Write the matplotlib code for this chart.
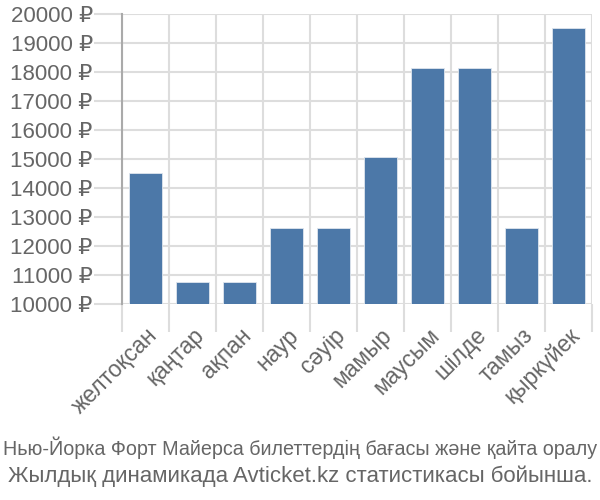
import matplotlib
matplotlib.use("Agg")
import matplotlib.pyplot as plt
import numpy as np

months = ["желтоқсан", "қаңтар", "ақпан", "наур", "сәуір", "мамыр",
          "маусым", "шілде", "тамыз", "қыркүйек"]
prices = [14520, 10760, 10760, 12620, 12620, 15070, 18150, 18150, 12620, 19530]
yticks = list(range(10000, 20001, 1000))
title_1 = "Нью-Йорка Форт Майерса билеттердің бағасы және қайта оралу"
title_2 = "Жылдық динамикада Avticket.kz статистикасы бойынша."

TEXT = "#666666"
GRID = "#dddddd"

plt.rcParams["font.family"] = ["Liberation Sans", "DejaVu Sans"]

fig = plt.figure(figsize=(6, 5), dpi=100)
ax = fig.add_axes([122 / 600, 1 - 304 / 500, 470 / 600, 290 / 500])

x = np.arange(len(months))
ax.bar(x, np.array(prices) - 10000, bottom=10000, width=0.72,
       color="#4c78a8", edgecolor="#dfe6ee", linewidth=0.6, zorder=3)

ax.set_xlim(-0.5, len(months) - 0.5)
ax.set_ylim(10000, 20000)

# horizontal grid + tick stubs to the left
ax.set_yticks(yticks)
ax.set_yticklabels([f"{v} ₽" for v in yticks], fontsize=16, color=TEXT)
ax.tick_params(axis="y", length=20, width=1.5, color=GRID, pad=1)
ax.grid(axis="y", color=GRID, linewidth=1.5, zorder=0)

# vertical grid at category boundaries, extended downwards as ticks
bounds = np.arange(len(months) + 1) - 0.5
ax.set_xticks(bounds, minor=True)
ax.tick_params(axis="x", which="minor", length=20, width=1.5, color=GRID)
ax.grid(axis="x", which="minor", color=GRID, linewidth=1.5, zorder=0)
ax.set_xticks(x)
ax.set_xticklabels(months, rotation=45, ha="right", rotation_mode="anchor",
                   fontsize=16.5, color=TEXT)
ax.tick_params(axis="x", which="major", length=0, pad=14)

for s in ["top", "right", "bottom"]:
    ax.spines[s].set_visible(False)
ax.spines["left"].set_color("#aaaaaa")
ax.spines["left"].set_linewidth(1.5)
ax.spines["left"].set_bounds(10000, 20000)

t1 = fig.text(0.5, 1 - 448 / 500, title_1, ha="center", va="center",
              fontsize=16.5, color=TEXT)
t2 = fig.text(0.5, 1 - 476 / 500, title_2, ha="center", va="center",
              fontsize=16.5, color=TEXT)

# shrink the titles until they fit the figure width
renderer = fig.canvas.get_renderer()
for t in (t1, t2):
    while t.get_window_extent(renderer).width > 596:
        t.set_fontsize(t.get_fontsize() - 0.25)

fig.savefig("out.png", dpi=100)
